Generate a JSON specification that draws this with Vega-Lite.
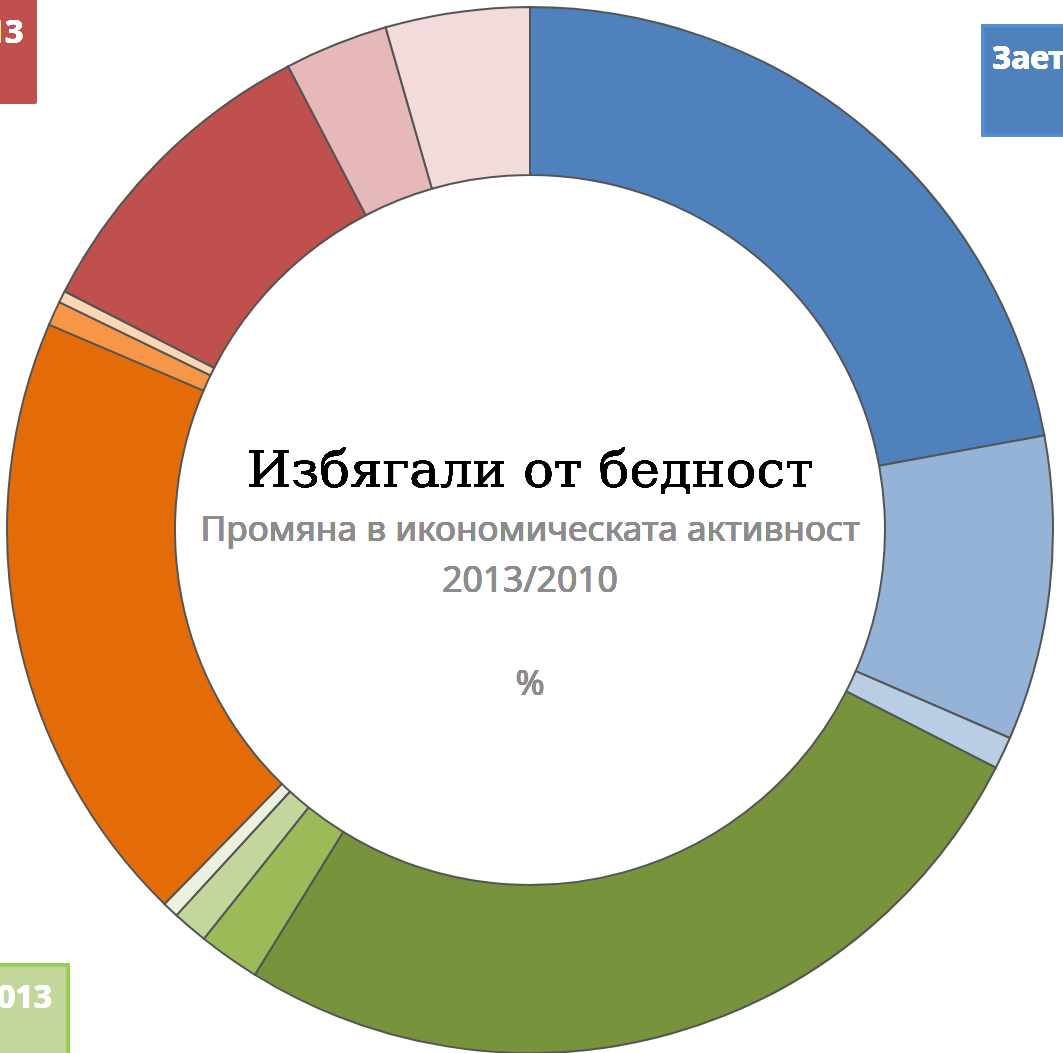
{
  "$schema": "https://vega.github.io/schema/vega-lite/v6.json",
  "width": 1060,
  "height": 1060,
  "padding": {"left": 0, "top": 0, "right": 3, "bottom": 0},
  "autosize": {"type": "none"},
  "background": "white",
  "view": {"stroke": null},
  "data": {
    "values": [
      {"idx": 1, "category": "Заетост 2013 – а", "value": 22.1},
      {"idx": 2, "category": "Заетост 2013 – б", "value": 9.4},
      {"idx": 3, "category": "Заетост 2013 – в", "value": 1.0},
      {"idx": 4, "category": "Безработни 2013 – а", "value": 26.3},
      {"idx": 5, "category": "Безработни 2013 – б", "value": 1.9},
      {"idx": 6, "category": "Безработни 2013 – в", "value": 1.1},
      {"idx": 7, "category": "Безработни 2013 – г", "value": 0.5},
      {"idx": 8, "category": "Пенсионери 2013 – а", "value": 19.1},
      {"idx": 9, "category": "Пенсионери 2013 – б", "value": 0.75},
      {"idx": 10, "category": "Пенсионери 2013 – в", "value": 0.37},
      {"idx": 11, "category": "Неактивни 2013 – а", "value": 9.8},
      {"idx": 12, "category": "Неактивни 2013 – б", "value": 3.2},
      {"idx": 13, "category": "Неактивни 2013 – в", "value": 4.45}
    ]
  },
  "layer": [
    {
      "mark": {"type": "arc", "outerRadius": 523, "innerRadius": 355, "stroke": "#555555", "strokeWidth": 2},
      "encoding": {
        "theta": {"field": "value", "type": "quantitative", "stack": true},
        "order": {"field": "idx", "type": "quantitative"},
        "color": {
          "field": "category",
          "type": "nominal",
          "legend": null,
          "scale": {
            "domain": ["Заетост 2013 – а", "Заетост 2013 – б", "Заетост 2013 – в", "Безработни 2013 – а", "Безработни 2013 – б", "Безработни 2013 – в", "Безработни 2013 – г", "Пенсионери 2013 – а", "Пенсионери 2013 – б", "Пенсионери 2013 – в", "Неактивни 2013 – а", "Неактивни 2013 – б", "Неактивни 2013 – в"],
            "range": ["#4F81BD", "#95B3D7", "#B9CDE5", "#77933C", "#9BBB59", "#C3D69B", "#EBF1DE", "#E36C09", "#F79646", "#FCD5B5", "#C0504D", "#E6B9B8", "#F2DCDB"]
          }
        }
      }
    },
    {
      "mark": {"type": "text", "text": "Избягали от бедност", "font": "DejaVu Serif", "fontSize": 51.3, "color": "#000000", "align": "center", "baseline": "alphabetic"},
      "encoding": {
        "x": {"datum": 0, "type": "quantitative", "scale": {"domain": [-100, 100]}, "axis": null},
        "y": {"datum": 8.11, "type": "quantitative", "scale": {"domain": [-100, 100]}, "axis": null}
      }
    },
    {
      "mark": {"type": "text", "text": "Промяна в икономическата активност", "font": "Noto Sans", "fontSize": 35.2, "color": "#8C8C8C", "align": "center", "baseline": "alphabetic"},
      "encoding": {
        "x": {"datum": 0, "type": "quantitative", "scale": {"domain": [-100, 100]}, "axis": null},
        "y": {"datum": -2.08, "type": "quantitative", "scale": {"domain": [-100, 100]}, "axis": null}
      }
    },
    {
      "mark": {"type": "text", "text": "2013/2010", "font": "Noto Sans", "fontSize": 35.5, "color": "#8C8C8C", "align": "center", "baseline": "alphabetic"},
      "encoding": {
        "x": {"datum": 0, "type": "quantitative", "scale": {"domain": [-100, 100]}, "axis": null},
        "y": {"datum": -11.7, "type": "quantitative", "scale": {"domain": [-100, 100]}, "axis": null}
      }
    },
    {
      "mark": {"type": "text", "text": "%", "font": "Noto Sans", "fontSize": 35, "color": "#8C8C8C", "align": "center", "baseline": "alphabetic"},
      "encoding": {
        "x": {"datum": 0, "type": "quantitative", "scale": {"domain": [-100, 100]}, "axis": null},
        "y": {"datum": -31.1, "type": "quantitative", "scale": {"domain": [-100, 100]}, "axis": null}
      }
    },
    {
      "mark": {"type": "rect", "fill": "#4F81BD", "stroke": "#558ED5", "strokeWidth": 3},
      "encoding": {
        "x": {"datum": 85.5, "type": "quantitative", "scale": {"domain": [-100, 100]}, "axis": null},
        "x2": {"datum": 145},
        "y": {"datum": 95.1, "type": "quantitative", "scale": {"domain": [-100, 100]}, "axis": null},
        "y2": {"datum": 74.5}
      }
    },
    {
      "mark": {"type": "text", "text": "Заетост 2013", "font": "Noto Sans", "fontWeight": "bold", "fontSize": 32, "color": "white", "align": "left", "baseline": "alphabetic"},
      "encoding": {
        "x": {"datum": 87.2, "type": "quantitative", "scale": {"domain": [-100, 100]}, "axis": null},
        "y": {"datum": 87.0, "type": "quantitative", "scale": {"domain": [-100, 100]}, "axis": null}
      }
    },
    {
      "mark": {"type": "rect", "fill": "#C0504D", "stroke": "#C0504D", "strokeWidth": 1},
      "encoding": {
        "x": {"datum": -160, "type": "quantitative", "scale": {"domain": [-100, 100]}, "axis": null},
        "x2": {"datum": -93.2},
        "y": {"datum": 120, "type": "quantitative", "scale": {"domain": [-100, 100]}, "axis": null},
        "y2": {"datum": 80.6}
      }
    },
    {
      "mark": {"type": "text", "text": "Неактивни 2013", "font": "Noto Sans", "fontWeight": "bold", "fontSize": 32, "color": "white", "align": "right", "baseline": "alphabetic"},
      "encoding": {
        "x": {"datum": -95.6, "type": "quantitative", "scale": {"domain": [-100, 100]}, "axis": null},
        "y": {"datum": 91.9, "type": "quantitative", "scale": {"domain": [-100, 100]}, "axis": null}
      }
    },
    {
      "mark": {"type": "rect", "fill": "#C3D69B", "stroke": "#92D050", "strokeWidth": 3},
      "encoding": {
        "x": {"datum": -160, "type": "quantitative", "scale": {"domain": [-100, 100]}, "axis": null},
        "x2": {"datum": -87.2},
        "y": {"datum": -82.1, "type": "quantitative", "scale": {"domain": [-100, 100]}, "axis": null},
        "y2": {"datum": -130}
      }
    },
    {
      "mark": {"type": "text", "text": "Безработни 2013", "font": "Noto Sans", "fontWeight": "bold", "fontSize": 32, "color": "white", "align": "right", "baseline": "alphabetic"},
      "encoding": {
        "x": {"datum": -90.2, "type": "quantitative", "scale": {"domain": [-100, 100]}, "axis": null},
        "y": {"datum": -90.2, "type": "quantitative", "scale": {"domain": [-100, 100]}, "axis": null}
      }
    }
  ]
}
